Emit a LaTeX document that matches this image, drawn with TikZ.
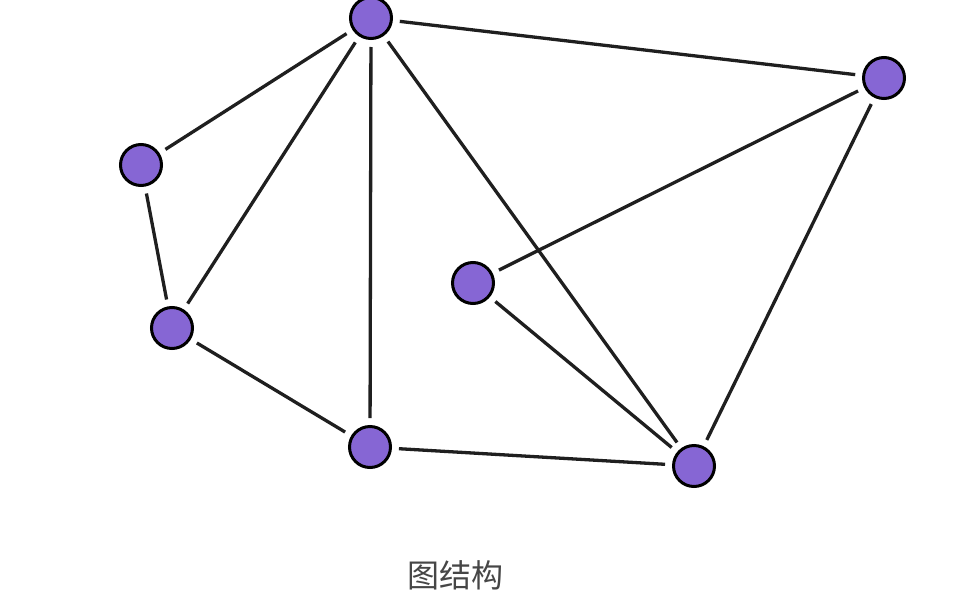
\documentclass[tikz,border=0pt]{standalone}
\usepackage{fontspec}
\newfontfamily\cjk{Noto Sans CJK SC}
\definecolor{nodepurple}{RGB}{134,102,212}
\definecolor{labelgray}{RGB}{70,70,70}
\begin{document}
\begin{tikzpicture}[x=1pt,y=-1pt,
  vtx/.style={circle,draw=black,line width=3pt,fill=nodepurple,minimum size=41pt,inner sep=0pt},
  edge/.style={line width=3.3pt,draw=black!88,shorten >=7pt,shorten <=7pt}]
\useasboundingbox (0,0) rectangle (955,613);
\node[vtx] (A) at (371,18) {};
\node[vtx] (B) at (884,78) {};
\node[vtx] (C) at (141,165) {};
\node[vtx] (D) at (473,283) {};
\node[vtx] (E) at (172,328) {};
\node[vtx] (F) at (370,447) {};
\node[vtx] (G) at (694,466) {};
\draw[edge] (A) -- (C);
\draw[edge] (A) -- (E);
\draw[edge] (A) -- (F);
\draw[edge] (A) -- (G);
\draw[edge] (A) -- (B);
\draw[edge] (C) -- (E);
\draw[edge] (E) -- (F);
\draw[edge] (F) -- (G);
\draw[edge] (D) -- (B);
\draw[edge] (D) -- (G);
\draw[edge] (B) -- (G);
\node[text=labelgray,font=\cjk\fontsize{32}{36}\selectfont] (T) at (455,575) {图结构};
\end{tikzpicture}
\end{document}
